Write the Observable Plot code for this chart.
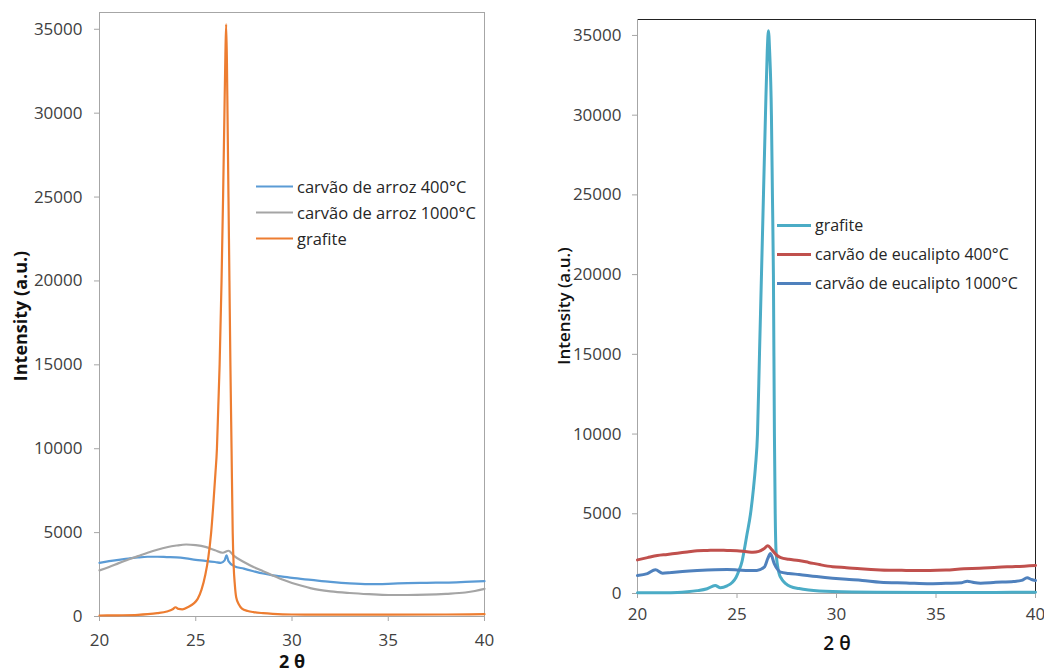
<!DOCTYPE html>
<html><head><meta charset="utf-8">
<script src="https://cdn.jsdelivr.net/npm/d3@7"></script>
<script src="https://cdn.jsdelivr.net/npm/@observablehq/plot@0.6"></script>
<style>
body{margin:0;background:#fff;width:1044px;height:671px;overflow:hidden;position:relative;font-family:"Open Sans",sans-serif;}
.panel{position:absolute;top:0;height:671px;}
.lab{position:absolute;transform:translate(-50%,-50%);white-space:nowrap;color:#111;}
.row{position:absolute;display:flex;align-items:center;white-space:nowrap;color:#262626;transform:translateY(-50%);}
.sw{display:inline-block;margin-right:4px;}
</style></head><body>
<div id="left" class="panel" style="left:0;width:520px"></div>
<div id="right" class="panel" style="left:520px;width:524px"></div>
<div class="lab" style="left:20px;top:316px;transform:translate(-50%,-50%) rotate(-90deg);font-weight:700;font-size:18px">Intensity (a.u.)</div>
<div class="lab" style="left:292px;top:661px;font-weight:700;font-size:18px">2 θ</div>
<div class="lab" style="left:563px;top:306px;transform:translate(-50%,-50%) rotate(-90deg);font-weight:600;font-size:17px">Intensity (a.u.)</div>
<div class="lab" style="left:837px;top:643px;font-weight:600;font-size:19px">2 θ</div>
<div id="legL"></div>
<div id="legR"></div>
<script>
// ---- tick labels ----
const xTicks = [20, 25, 30, 35, 40];
const yTicks = [0, 5000, 10000, 15000, 20000, 25000, 30000, 35000];

// ---- left panel: rice charcoal ----
const riceNames = ["carvão de arroz 400°C", "carvão de arroz 1000°C", "grafite"];
const riceColors = ["#5B9BD5", "#A5A5A5", "#ED7D31"];

const rice400X = [20, 20.5, 21, 21.5, 22, 22.5, 23, 23.5, 24, 24.5, 25, 25.5, 26, 26.3, 26.5, 26.6, 26.7, 27, 27.5, 28, 28.5, 29, 29.5, 30, 31, 32, 33, 34, 35, 36, 37, 38, 39, 40];
const rice400Y = [3200, 3300, 3380, 3450, 3520, 3560, 3560, 3540, 3520, 3460, 3380, 3320, 3250, 3200, 3350, 3650, 3300, 3000, 2850, 2700, 2560, 2450, 2380, 2300, 2180, 2060, 1970, 1930, 1950, 1990, 2010, 2020, 2060, 2110];

const rice1000X = [20, 20.5, 21, 21.5, 22, 22.5, 23, 23.5, 24, 24.5, 25, 25.5, 26, 26.4, 26.7, 27, 27.5, 28, 28.5, 29, 29.5, 30, 30.5, 31, 32, 33, 34, 35, 36, 37, 38, 39, 39.5, 40];
const rice1000Y = [2750, 2950, 3180, 3400, 3600, 3800, 3980, 4130, 4230, 4290, 4250, 4150, 3950, 3800, 3920, 3600, 3250, 2950, 2700, 2450, 2200, 2000, 1830, 1680, 1500, 1400, 1330, 1280, 1280, 1300, 1350, 1430, 1520, 1650];

const graphLX = [20, 21, 22, 22.5, 23, 23.5, 23.8, 23.95, 24.1, 24.3, 24.6, 24.9, 25.1, 25.3, 25.5, 25.65, 25.8, 25.92, 26.02, 26.1, 26.17, 26.24, 26.34, 26.42, 26.49, 26.54, 26.58, 26.62, 26.65, 26.70, 26.75, 26.80, 26.86, 26.92, 26.97, 27.03, 27.1, 27.25, 27.4, 27.7, 28, 28.5, 29, 30, 32, 35, 38, 40];
const graphLY = [60, 70, 100, 140, 200, 300, 430, 550, 450, 430, 560, 780, 1050, 1600, 2500, 3500, 5000, 6800, 8500, 10000, 12500, 15000, 20000, 25000, 30000, 33500, 35300, 33000, 30000, 25000, 20000, 15000, 10000, 5000, 3000, 1900, 1150, 700, 470, 330, 260, 200, 160, 120, 110, 110, 120, 140];

// ---- right panel: eucalyptus charcoal ----
const eucNames = ["grafite", "carvão de eucalipto 400°C", "carvão de eucalipto 1000°C"];
const eucColors = ["#4BACC6", "#C0504D", "#4F81BD"];

const graphRX = [20, 21, 22, 22.5, 23, 23.5, 23.9, 24.17, 24.5, 24.77, 24.95, 25.1, 25.25, 25.36, 25.5, 25.68, 25.82, 25.93, 26.03, 26.13, 26.23, 26.33, 26.43, 26.52, 26.58, 26.64, 26.73, 26.78, 26.83, 26.88, 26.92, 26.96, 27.03, 27.12, 27.25, 27.45, 27.7, 28.12, 28.6, 29.8, 32, 35, 38, 40];
const graphRY = [40, 50, 70, 110, 180, 300, 500, 360, 480, 710, 1000, 1440, 2000, 2700, 3700, 5000, 6500, 8000, 10000, 15000, 20000, 25000, 30000, 34000, 35300, 34000, 30000, 25000, 20000, 10000, 5000, 2700, 1800, 1230, 900, 620, 430, 310, 220, 120, 80, 70, 70, 80];

const euc400X = [20, 20.5, 21, 21.5, 22, 22.5, 23, 23.5, 24, 24.5, 25, 25.5, 25.8, 26.1, 26.35, 26.55, 26.75, 27, 27.2, 27.6, 28.1, 28.6, 29.2, 29.8, 30.5, 31.2, 32.2, 33.5, 34.7, 35.5, 36.4, 37.2, 38.1, 39, 40];
const euc400Y = [2110, 2250, 2380, 2450, 2530, 2600, 2680, 2700, 2720, 2700, 2680, 2620, 2590, 2640, 2800, 3000, 2750, 2400, 2250, 2150, 2070, 1950, 1800, 1680, 1620, 1550, 1480, 1450, 1440, 1470, 1550, 1580, 1650, 1690, 1760];

const euc1000X = [20, 20.5, 20.9, 21.26, 21.7, 22.26, 23, 23.9, 24.5, 25, 25.6, 26, 26.37, 26.55, 26.68, 26.87, 27.05, 27.19, 27.6, 28.12, 29, 29.8, 30.5, 31.3, 32.2, 33.5, 34.7, 35.6, 36.3, 36.57, 36.9, 37.24, 38, 38.9, 39.3, 39.58, 39.8, 40];
const euc1000Y = [1130, 1250, 1490, 1270, 1320, 1380, 1440, 1490, 1500, 1480, 1440, 1450, 1650, 2200, 2510, 1880, 1500, 1340, 1260, 1190, 1060, 960, 890, 820, 710, 660, 610, 640, 680, 770, 690, 650, 700, 750, 820, 980, 880, 815];

function table(xs, ys, s) { return xs.map((x, i) => ({x, y: ys[i], s})); }

const riceData = [
  ...table(rice400X, rice400Y, riceNames[0]),
  ...table(rice1000X, rice1000Y, riceNames[1]),
  ...table(graphLX, graphLY, riceNames[2])
];
const eucData = [
  ...table(graphRX, graphRY, eucNames[0]),
  ...table(euc400X, euc400Y, eucNames[1]),
  ...table(euc1000X, euc1000Y, eucNames[2])
];

const fmt = d3.format("d");

const left = Plot.plot({
  width: 520, height: 671,
  marginLeft: 99, marginRight: 36, marginTop: 12, marginBottom: 55,
  x: {domain: [20, 40]},
  y: {domain: [0, 36000]},
  color: {domain: riceNames, range: riceColors},
  style: {fontFamily: "Open Sans", fontSize: "17px", background: "transparent", overflow: "visible"},
  marks: [
    Plot.frame({stroke: "#A6A6A6"}),
    Plot.axisY({ticks: yTicks, tickSize: 5, tickPadding: 12, tickFormat: fmt, label: null, stroke: "#A6A6A6", fill: "#404040"}),
    Plot.axisX({ticks: xTicks, tickSize: 5, tickPadding: 12, label: null, stroke: "#A6A6A6", fill: "#404040"}),
    Plot.line(riceData, {x: "x", y: "y", z: "s", stroke: "s", strokeWidth: 2.2, curve: "monotone-x"})
  ]
});
document.getElementById("left").appendChild(left);

const right = Plot.plot({
  width: 524, height: 671,
  marginLeft: 117, marginRight: 9, marginTop: 19, marginBottom: 78,
  x: {domain: [20, 40]},
  y: {domain: [0, 36000]},
  color: {domain: eucNames, range: eucColors},
  style: {fontFamily: "Open Sans", fontSize: "17px", background: "transparent", overflow: "visible"},
  marks: [
    Plot.frame({stroke: "#222"}),
    Plot.ruleX([20], {stroke: "#A6A6A6"}),
    Plot.ruleY([0], {stroke: "#A6A6A6"}),
    Plot.axisY({ticks: yTicks, tickSize: 5, tickPadding: 11, tickFormat: fmt, label: null, stroke: "#A6A6A6", fill: "#404040"}),
    Plot.axisX({ticks: xTicks, tickSize: 5, tickPadding: 9, label: null, stroke: "#A6A6A6", fill: "#404040"}),
    Plot.line(eucData, {x: "x", y: "y", z: "s", stroke: "s", strokeWidth: 3, curve: "monotone-x"})
  ]
});
document.getElementById("right").appendChild(right);

// ---- legends (HTML) ----
function legend(id, names, colors, x0, y0, dy, swW, swH, fs) {
  const el = document.getElementById(id);
  names.forEach((n, i) => {
    const r = document.createElement("div");
    r.className = "row";
    r.style.left = x0 + "px";
    r.style.top = (y0 + i * dy) + "px";
    r.style.fontSize = fs + "px";
    r.innerHTML = `<span class="sw" style="width:${swW}px;height:${swH}px;background:${colors[i]}"></span><span>${n}</span>`;
    el.appendChild(r);
  });
}
legend("legL", riceNames, riceColors, 256, 186, 26, 37, 2, 16.5);
legend("legR", eucNames, eucColors, 777, 225, 29, 34, 3, 16);
</script>
</body></html>
